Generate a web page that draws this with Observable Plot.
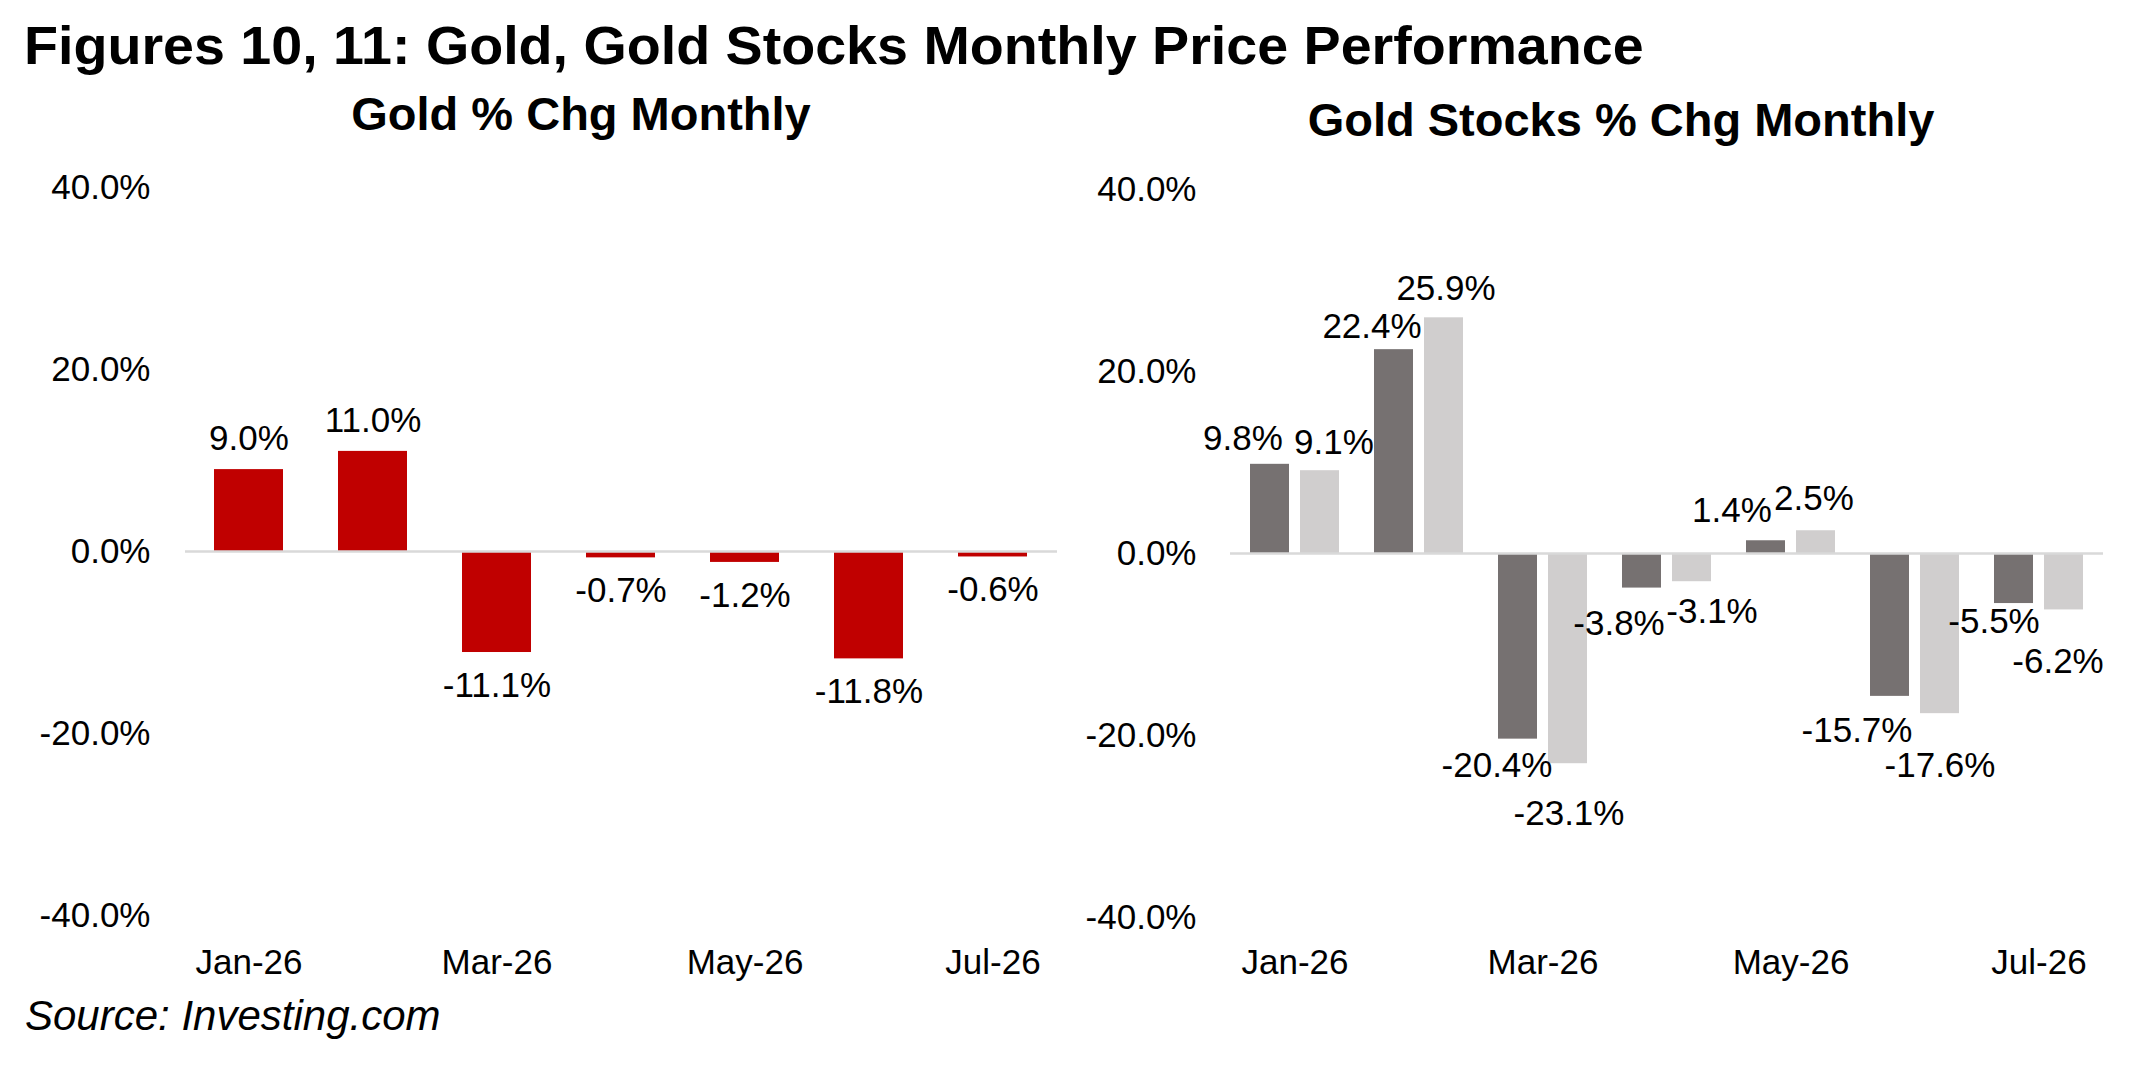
<!DOCTYPE html>
<html>
<head>
<meta charset="utf-8">
<script src="https://cdn.jsdelivr.net/npm/d3@7"></script>
<script src="https://cdn.jsdelivr.net/npm/@observablehq/plot@0.6"></script>
<style>
  html, body { margin: 0; padding: 0; background: #fff; }
  body { width: 2138px; height: 1066px; position: relative; overflow: hidden;
         font-family: "Liberation Sans", Arial, Helvetica, sans-serif; color: #000; }
  .t { position: absolute; white-space: nowrap; line-height: 1; }
  #title { left: 24px; top: 18px; font-size: 54px; font-weight: bold;
           transform: scaleX(1.03); transform-origin: 0 0; }
  .sub { font-size: 47px; font-weight: bold; transform: translateX(-50%); }
  #sub1 { left: 581px; top: 90px; }
  #sub2 { left: 1621px; top: 96px; }
  #source { left: 25px; top: 995px; font-size: 42px; font-style: italic; }
  #left { position: absolute; left: 0; top: 140px; }
  #right { position: absolute; left: 1069px; top: 140px; }
  svg { overflow: visible; }
</style>
</head>
<body>
<div class="t" id="title">Figures 10, 11: Gold, Gold Stocks Monthly Price Performance</div>
<div class="t sub" id="sub1">Gold % Chg Monthly</div>
<div class="t sub" id="sub2">Gold Stocks % Chg Monthly</div>
<div id="left"></div>
<div id="right"></div>
<div class="t" id="source">Source: Investing.com</div>
<script>
// ---- data ----
const months = ["Jan-26", "Feb-26", "Mar-26", "Apr-26", "May-26", "Jun-26", "Jul-26"];
const xTickLabels = ["Jan-26", "Mar-26", "May-26", "Jul-26"];
const yTicks = [-40, -20, 0, 20, 40];
const goldChg = [9.0, 11.0, -11.1, -0.7, -1.2, -11.8, -0.6];
const stocksDark = [9.8, 22.4, -20.4, -3.8, 1.4, -15.7, -5.5];
const stocksLight = [9.1, 25.9, -23.1, -3.1, 2.5, -17.6, -6.2];

// ---- label nudges (pixels), as placed in the original ----
const darkLabelDx = [-27, -22, -21, -23, -34, -33, -20];
const darkLabelGap = [26, 23, 27, 36, 30, 34, 18];
const lightLabelDx = [14, 2, 1, 20, -2, 0, -6];
const lightLabelGap = [28, 29, 50, 30, 32, 52, 52];

const fmt = v => v.toFixed(1) + "%";
const FONT = '"Liberation Sans", Arial, Helvetica, sans-serif';
const LABEL_SIZE = 35;

// ---- left chart: Gold ----
const goldData = months.map((m, i) => ({month: m, value: goldChg[i]}));
const left = Plot.plot({
  width: 1069, height: 860,
  marginLeft: 185, marginRight: 12, marginTop: 47, marginBottom: 85,
  style: {fontFamily: FONT, fontSize: "35px", color: "#000", background: "transparent", overflow: "visible"},
  x: {domain: months, paddingInner: 0.44, paddingOuter: 0.22, label: null,
      ticks: xTickLabels, tickSize: 0, tickPadding: 34},
  y: {domain: [-40, 40], ticks: yTicks, tickFormat: fmt, label: null, tickSize: 0, tickPadding: 35},
  marks: [
    Plot.barY(goldData, {x: "month", y: "value", fill: "#c00000"}),
    Plot.ruleY([0], {stroke: "#d9d9d9", strokeWidth: 2.5}),
    Plot.text(goldData.filter(d => d.value >= 0), {x: "month", y: "value", text: d => fmt(d.value),
      dy: -31, fontSize: LABEL_SIZE, fill: "#000"}),
    Plot.text(goldData.filter(d => d.value < 0), {x: "month", y: "value", text: d => fmt(d.value),
      dy: 33, fontSize: LABEL_SIZE, fill: "#000"})
  ]
});
document.getElementById("left").appendChild(left);

// ---- right chart: Gold Stocks ----
const darkData = months.map((m, i) => ({month: m, value: stocksDark[i]}));
const lightData = months.map((m, i) => ({month: m, value: stocksLight[i]}));
const barW = 40, gapW = 10, bandW = 90;
const half = (barW + gapW) / 2;
const labelMarks = [];
months.forEach((m, i) => {
  const a = darkData[i], b = lightData[i];
  labelMarks.push(Plot.text([a], {x: "month", y: "value", text: d => fmt(d.value),
    dx: -half + darkLabelDx[i], dy: a.value >= 0 ? -darkLabelGap[i] : darkLabelGap[i], fontSize: LABEL_SIZE, fill: "#000"}));
  labelMarks.push(Plot.text([b], {x: "month", y: "value", text: d => fmt(d.value),
    dx: half + lightLabelDx[i], dy: b.value >= 0 ? -lightLabelGap[i] : lightLabelGap[i], fontSize: LABEL_SIZE, fill: "#000"}));
});
const right = Plot.plot({
  width: 1069, height: 860,
  marginLeft: 161, marginRight: 35, marginTop: 49, marginBottom: 83,
  style: {fontFamily: FONT, fontSize: "35px", color: "#000", background: "transparent", overflow: "visible"},
  x: {domain: months, paddingInner: 0.279, paddingOuter: 0.1395, label: null,
      ticks: xTickLabels, tickSize: 0, tickPadding: 32},
  y: {domain: [-40, 40], ticks: yTicks, tickFormat: fmt, label: null, tickSize: 0, tickPadding: 34},
  marks: [
    Plot.barY(darkData, {x: "month", y: "value", fill: "#767171", insetRight: bandW - barW}),
    Plot.barY(lightData, {x: "month", y: "value", fill: "#d0cece", insetLeft: bandW - barW}),
    Plot.ruleY([0], {stroke: "#d9d9d9", strokeWidth: 2.5}),
    ...labelMarks
  ]
});
document.getElementById("right").appendChild(right);
</script>
</body>
</html>
